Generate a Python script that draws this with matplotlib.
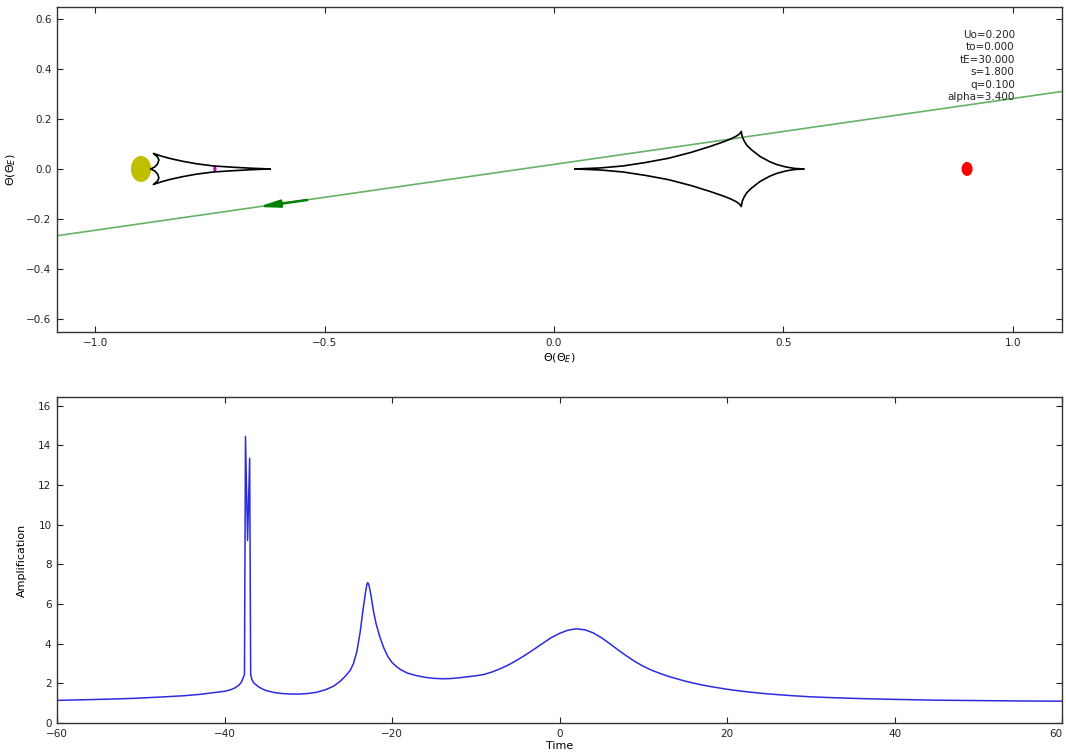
import matplotlib
matplotlib.use("Agg")
import matplotlib.pyplot as plt
from matplotlib.patches import Ellipse

# lens / source parameters shown in the corner box
U0 = 0.200
T0 = 0.000
TE = 30.000
SEP = 1.800
Q = 0.100
ALPHA = 3.400

# central caustic, traced round from the left cusp
central_x = [0.046, 0.10, 0.15, 0.20, 0.25, 0.30, 0.34, 0.37, 0.385, 0.397, 0.404, 0.408,
             0.410, 0.414, 0.420, 0.430, 0.449, 0.470, 0.485, 0.505, 0.525, 0.545,
             0.525, 0.505, 0.485, 0.470, 0.449, 0.430, 0.420, 0.414, 0.410,
             0.408, 0.404, 0.397, 0.385, 0.37, 0.34, 0.30, 0.25, 0.20, 0.15, 0.10, 0.046]
central_y = [0.000, 0.004, 0.012, 0.026, 0.043, 0.067, 0.090, 0.109, 0.120, 0.131, 0.140, 0.150,
             0.130, 0.113, 0.095, 0.077, 0.050, 0.029, 0.018, 0.008, 0.002, 0.000,
             -0.002, -0.008, -0.018, -0.029, -0.050, -0.077, -0.095, -0.113, -0.130,
             -0.150, -0.140, -0.131, -0.120, -0.109, -0.090, -0.067, -0.043, -0.026, -0.012, -0.004, 0.000]

# planetary caustic, traced round from the right cusp
planet_x = [-0.619, -0.66, -0.70, -0.742, -0.78, -0.81, -0.837, -0.855, -0.873,
            -0.864, -0.861, -0.864, -0.870, -0.879,
            -0.870, -0.864, -0.861, -0.864, -0.873,
            -0.855, -0.837, -0.81, -0.78, -0.742, -0.70, -0.66, -0.619]
planet_y = [0.000, 0.003, 0.007, 0.012, 0.021, 0.031, 0.042, 0.051, 0.062,
            0.048, 0.036, 0.020, 0.008, 0.000,
            -0.008, -0.020, -0.036, -0.048, -0.062,
            -0.051, -0.042, -0.031, -0.021, -0.012, -0.007, -0.003, 0.000]

# source trajectory and direction of motion
traj_x = [-1.083, 1.107]
traj_y = [-0.267, 0.310]
arrow_tail = (-0.538, -0.124)
arrow_head = (-0.645, -0.152)

# lens masses and the source marker
mass1 = (-0.90, 0.0)
mass2 = (0.90, 0.0)
source = (-0.739, 0.0)

# light curve
time = [-60, -57, -54, -51, -48, -45, -43, -41.5, -40, -39.3, -38.8, -38.3, -38.0, -37.8, -37.62,
        -37.5, -37.25, -37.0, -36.88,
        -36.75, -36.5, -36.0, -35.5, -35.0, -34.0, -33.0, -32.0, -31.0, -30.0, -29.0, -28.0,
        -27.0, -26.2, -25.6, -25.0, -24.6, -24.2, -23.8, -23.5, -23.2, -23.0, -22.9, -22.75,
        -22.5, -22.2, -21.9, -21.5, -21.0, -20.5, -20.0, -19.5, -19.0, -18.2, -17.0, -16.0,
        -15.0, -14.0, -13.0, -12.0, -11.0, -10.0, -9.0, -8.0, -7.0, -6.0, -5.0, -4.0, -3.0,
        -2.0, -1.0, 0.0, 1.0, 2.0, 3.0, 4.0, 5.0, 6.0, 7.0, 8.0, 9.0, 10.0, 11.0, 12.0, 13.0,
        14.0, 15.0, 16.0, 17.0, 18.0, 20.0, 22.0, 24.0, 26.0, 28.0, 30.0, 33.0, 36.0, 40.0,
        45.0, 50.0, 55.0, 60.0]
ampl = [1.14, 1.17, 1.20, 1.24, 1.30, 1.37, 1.44, 1.52, 1.60, 1.67, 1.76, 1.90, 2.05, 2.25, 2.45,
        14.45, 9.2, 13.35, 2.45,
        2.20, 2.02, 1.84, 1.72, 1.63, 1.53, 1.48, 1.46, 1.46, 1.49, 1.55, 1.67,
        1.85, 2.10, 2.35, 2.65, 3.00, 3.60, 4.60, 5.60, 6.50, 7.00, 7.08, 6.95,
        6.40, 5.60, 5.00, 4.40, 3.80, 3.35, 3.05, 2.85, 2.70, 2.52, 2.38, 2.30,
        2.25, 2.23, 2.24, 2.28, 2.33, 2.38, 2.45, 2.58, 2.75, 2.95, 3.19, 3.45, 3.73,
        4.02, 4.30, 4.52, 4.68, 4.75, 4.70, 4.55, 4.30, 4.00, 3.68, 3.38, 3.10, 2.86, 2.66, 2.50, 2.35,
        2.23, 2.11, 2.01, 1.92, 1.84, 1.70, 1.59, 1.50, 1.43, 1.37, 1.32, 1.27, 1.23, 1.19,
        1.15, 1.13, 1.11, 1.10]

plt.rcParams['xtick.direction'] = 'in'
plt.rcParams['ytick.direction'] = 'in'
plt.rcParams['xtick.top'] = True
plt.rcParams['ytick.right'] = True
plt.rcParams['font.size'] = 7.5

fig = plt.figure(figsize=(10.66, 7.55), dpi=100)
ax1 = fig.add_axes([0.0535, 0.5603, 0.9428, 0.4305])
ax2 = fig.add_axes([0.0535, 0.0424, 0.9428, 0.4318])

# --- source plane ---
ax1.plot(traj_x, traj_y, color='#008000', lw=1.2, alpha=0.6)
ax1.annotate('', xy=arrow_head, xytext=arrow_tail,
             arrowprops=dict(arrowstyle='-|>,head_length=1.0,head_width=0.18',
                             mutation_scale=12, color='#008000', lw=1.8,
                             shrinkA=0, shrinkB=0))
ax1.plot(central_x, central_y, color='black', lw=1.2)
ax1.plot(planet_x, planet_y, color='black', lw=1.2)
ax1.add_patch(Ellipse(mass1, 0.044, 0.104, color='#bfbf00', lw=0))
ax1.add_patch(Ellipse(mass2, 0.024, 0.056, color='red', lw=0))
ax1.add_patch(Ellipse(source, 0.007, 0.028, color='#bf00bf', lw=0))

info = (f"Uo={U0:.3f}\nto={T0:.3f}\ntE={TE:.3f}\n"
        f"s={SEP:.3f}\nq={Q:.3f}\nalpha={ALPHA:.3f}")
ax1.text(1.004, 0.556, info, ha='right', va='top', multialignment='right',
         linespacing=1.3, fontsize=7.5, color='#222222')

ax1.set_xlim(-1.083, 1.107)
ax1.set_ylim(-0.652, 0.648)
ax1.set_xticks([-1.0, -0.5, 0.0, 0.5, 1.0])
ax1.set_yticks([-0.6, -0.4, -0.2, 0.0, 0.2, 0.4, 0.6])
ax1.set_xlabel(r'$\Theta(\Theta_E)$', fontsize=8, labelpad=3)
ax1.set_ylabel(r'$\Theta(\Theta_E)$', fontsize=8, labelpad=6)

# --- light curve ---
ax2.plot(time, ampl, color='#2b2be0', lw=1.1)
ax2.set_xlim(-60, 60)
ax2.set_ylim(0, 16.44)
ax2.set_xticks(range(-60, 61, 20))
ax2.set_yticks(range(0, 17, 2))
ax2.set_xlabel('Time', fontsize=8, labelpad=2)
ax2.set_ylabel('Amplification', fontsize=8, labelpad=8)

for ax in (ax1, ax2):
    ax.tick_params(length=4, width=0.8, pad=4, labelsize=7.5, colors='#222222')
    for sp in ax.spines.values():
        sp.set_color('#333333')
        sp.set_linewidth(1.0)

# keep the last time label inside the figure edge
ax2.get_xticklabels()[-1].set_horizontalalignment('right')

fig.savefig('out.png', dpi=100)
